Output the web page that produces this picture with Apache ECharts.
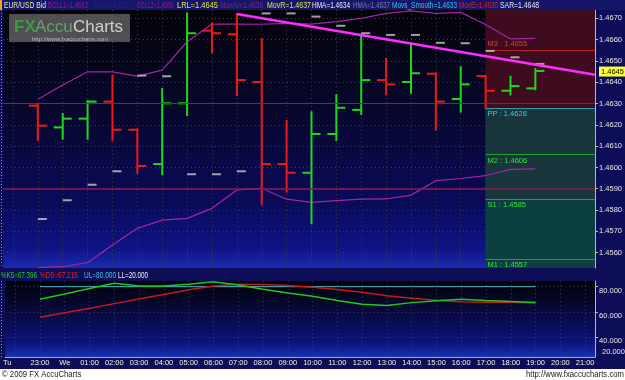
<!DOCTYPE html>
<html><head><meta charset="utf-8">
<script src="https://cdn.jsdelivr.net/npm/echarts@6/dist/echarts.min.js"></script>
<style>html,body{margin:0;padding:0;background:#fff;}#c{width:625px;height:380px;}</style>
</head><body><div id="c"></div>
<script>
// ---------- DATA ----------
const hourLabels = ['Tu','23:00','We','01:00','02:00','03:00','04:00','05:00','06:00','07:00','08:00','09:00',
  '10:00','11:00','12:00','13:00','14:00','15:00','16:00','17:00','18:00','19:00','20:00','21:00'];
const barTimes = ['23:00','We','01:00','02:00','03:00','04:00','05:00','06:00','07:00','08:00','09:00',
  '10:00','11:00','12:00','13:00','14:00','15:00','16:00','17:00','18:00','19:00'];
const openVals  = [1.46290,1.46188,1.46229,1.46309,1.46177,1.46016,1.46301,1.46642,1.46625,1.46401,1.46016,
  1.45975,1.46157,1.46270,1.46410,1.46401,1.46440,1.46321,1.46429,1.46360,1.46371];
const highVals  = [1.46293,1.46251,1.46312,1.46431,1.46179,1.46368,1.46723,1.46677,1.46720,1.46603,1.46218,
  1.46259,1.46340,1.46622,1.46509,1.46575,1.46442,1.46470,1.46429,1.46426,1.46461];
const lowVals   = [1.46129,1.46135,1.46135,1.46129,1.45975,1.45968,1.46246,1.46540,1.46340,1.45827,1.45886,
  1.45738,1.46129,1.46251,1.46343,1.46351,1.46179,1.46262,1.46278,1.46343,1.46367];
const closeVals = [1.46196,1.46229,1.46309,1.46177,1.46007,1.46301,1.46630,1.46630,1.46410,1.46016,1.45975,
  1.46157,1.46280,1.46410,1.46390,1.46442,1.46309,1.46390,1.46360,1.46382,1.46453];
const sarVals   = [1.45758,1.45846,1.45919,1.45982,1.46431,1.46428,1.45968,1.45968,1.45982,1.46723,1.46723,
  1.46708,1.46665,1.46630,1.46622,1.46622,1.46585,1.46583,1.46547,1.46517,1.46486];
const bollUpper = [1.46320,1.46387,1.46449,1.46449,1.46429,1.46457,1.46590,1.46673,1.46673,1.46672,1.46676,
  1.46673,1.46684,1.46700,1.46723,1.46735,1.46723,1.46728,1.46671,1.46603,1.46606];
const bollLower = [1.45530,1.45534,1.45553,1.45636,1.45714,1.45753,1.45761,1.45808,1.45894,1.45902,1.45851,
  1.45836,1.45844,1.45851,1.45852,1.45870,1.45938,1.45948,1.45962,1.45991,1.45993];
const stochK = [70.0,74.2,78.5,82.7,80.6,80.6,81.9,84.0,81.3,77.9,75.1,72.4,69.0,66.2,65.1,67.4,68.9,70.0,69.1,68.3,67.4];
const stochD = [55.8,59.4,63.0,66.6,70.3,73.8,77.5,80.6,81.9,81.7,80.9,79.6,77.8,75.6,72.9,70.8,69.2,68.1,67.7,67.7,67.2];
const stochUL = 80, stochLL = 20;
const subTickLabels = [80, 60, 40, 20];
const pivotNames  = ['M3','PP','M2','S1','M1'];
const pivotValues = [1.4655,1.4628,1.4606,1.4585,1.4557];
const pivotStart = '17:00';
const hLineValues = [1.4630, 1.4590];
const trendStart = '07:00';
const trendValues = [1.4672, 1.46435];
const lastPrice = 1.4645;
const headerItems = [
  ['EUR/USD Bid','#e6e6a0'],['BOLL1=1.4663','#8e1c8e'],['MovAv=1.4626','#1c2a8a'],['BOLL2=1.4589','#8e1c8e'],
  ['LRL=1.4645','#e4e444'],['MovAv=1.4638','#7e287e'],['MovR=1.4637','#e4e444'],['HMA=1.4634','#f0f0f0'],
  ['HMA=1.4637','#7c7ca8'],['Movs_Smooth=1.4633','#3cc0e0'],['MovE=1.4630','#e02020'],['SAR=1.4648','#e8e8e8']];
const subHeaderItems = [['%K5=67.396','#22d022'],['%D5=67.215','#e02222'],['UL=80.000','#3cc0e0'],['LL=20.000','#f0f0f0']];

// ---------- LAYOUT ----------
const FONT = "'Liberation Sans', Arial, sans-serif";
const xOf = t => hourLabels.indexOf(t) - 1;
const X_MIN = -1.4, X_MAX = 22.4, Y_MIN = 1.45528, Y_MAX = 1.46739;
const headerPos = [[4,42],[48,40],[94,35],[137,36],[177,41],[220,43],[267,44],[312,38],[353,37],[392,65],[459,39],[500,39]];
const subHeaderPos = [[1,36],[40,38],[84,32],[118,30]];

const ctx = document.createElement('canvas').getContext('2d');
ctx.font = '8.5px ' + FONT;
const fitScale = (t,w) => w / ctx.measureText(t).width;

const chart = echarts.init(document.getElementById('c'));
const mainGrad = new echarts.graphic.LinearGradient(0,0,0,1,[
  {offset:0,color:'#030309'},{offset:0.4,color:'#07072e'},{offset:0.75,color:'#0a0a5a'},
  {offset:0.93,color:'#0e1486'},{offset:1,color:'#1a2cb0'}]);
const subGrad = new echarts.graphic.LinearGradient(0,0,0,1,[
  {offset:0,color:'#020208'},{offset:0.45,color:'#080a44'},{offset:0.8,color:'#0c1278'},{offset:1,color:'#1830b0'}]);

const gridLine = {show:true, showMinLine:false, showMaxLine:false, lineStyle:{color:'#3a3a58', type:[1,3], width:1}};
const xBase = {type:'value', min:X_MIN, max:X_MAX, minInterval:1, maxInterval:1, z:1};

const bx = barTimes.map(xOf);
const ohlc = bx.map((x,i)=>[x, openVals[i], highVals[i], lowVals[i], closeVals[i]]);
const pivotColors = {M3:['#b82020','#e83a3a'], PP:['#2a9cb0','#44c8dc'], M2:['#24a030','#3ae048'], S1:['#24a030','#3ae048'], M1:['#24a030','#3ae048']};
const pStart = xOf(pivotStart);

const graphics = [
  {type:'rect', shape:{x:0,y:0,width:625,height:10}, style:{fill:'#15156a'}, z:10},
  {type:'rect', shape:{x:0,y:0,width:2,height:10}, style:{fill:'#f0a020'}, z:11},
  {type:'line', shape:{x1:1.5,y1:10,x2:1.5,y2:268}, style:{stroke:'#8888a0', lineDash:[1,2]}, z:11},
  {type:'line', shape:{x1:1.5,y1:281,x2:1.5,y2:357}, style:{stroke:'#8888a0', lineDash:[1,2]}, z:11},
  {type:'rect', shape:{x:0,y:369,width:625,height:11}, style:{fill:'#ffffff'}, z:10},
  {type:'text', x:2, y:375, scaleX:0.86, style:{text:'\u00a9 2009 FX AccuCharts', fill:'#202020', font:'9px '+FONT, verticalAlign:'middle', textVerticalAlign:'middle'}, z:11},
  {type:'text', x:624, y:375, scaleX:0.86, style:{text:'http://www.fxaccucharts.com', fill:'#202020', font:'9px '+FONT, align:'right', textAlign:'right', verticalAlign:'middle', textVerticalAlign:'middle'}, z:11},
  // watermark
  {type:'rect', shape:{x:9,y:14,width:121,height:28}, style:{fill:'rgba(110,110,110,0.72)'}, z:11},
  {type:'text', x:14, y:27, style:{text:'FX', fill:'#3e9a3e', font:'bold 17px '+FONT, verticalAlign:'middle', textVerticalAlign:'middle'}, z:12},
  {type:'text', x:35, y:27, style:{text:'Accu', fill:'#64a070', font:'17px '+FONT, verticalAlign:'middle', textVerticalAlign:'middle'}, z:12},
  {type:'text', x:73, y:27, style:{text:'Charts', fill:'#d0d0d0', font:'17px '+FONT, verticalAlign:'middle', textVerticalAlign:'middle'}, z:12},
  {type:'text', x:70, y:39, style:{text:'http://www.fxaccucharts.com', fill:'#b8b8b8', font:'6px '+FONT, align:'center', textAlign:'center', verticalAlign:'middle', textVerticalAlign:'middle'}, z:12}
];
headerItems.forEach((h,i)=>graphics.push({type:'text', x:headerPos[i][0], y:5.5, scaleX:fitScale(h[0],headerPos[i][1]),
  style:{text:h[0], fill:h[1], font:'8.5px '+FONT, verticalAlign:'middle', textVerticalAlign:'middle'}, z:12}));
subHeaderItems.forEach((h,i)=>graphics.push({type:'text', x:subHeaderPos[i][0], y:276, scaleX:fitScale(h[0],subHeaderPos[i][1]),
  style:{text:h[0], fill:h[1], font:'8.5px '+FONT, verticalAlign:'middle', textVerticalAlign:'middle'}, z:12}));

const option = {
  animation:false,
  backgroundColor:'#0e0e58',
  grid:[
    {left:3, right:27, top:10, height:258, show:true, backgroundColor:mainGrad, borderWidth:0},
    {left:3, right:27, top:281, height:76, show:true, backgroundColor:subGrad, borderWidth:0}
  ],
  xAxis:[
    Object.assign({}, xBase, {gridIndex:0, axisLine:{show:false, onZero:false}, axisTick:{show:false}, axisLabel:{show:false}, splitLine:gridLine}),
    Object.assign({}, xBase, {gridIndex:1, axisLine:{show:true, onZero:false, lineStyle:{color:'#a8a8c8'}}, axisTick:{show:false},
      splitLine:gridLine,
      axisLabel:{show:true, showMinLabel:false, showMaxLabel:false, margin:2, color:'#f0f0f0', fontSize:7.5, fontFamily:FONT,
        formatter:v=>{ if (Math.abs(v-Math.round(v))>1e-6) return ''; const k=Math.round(v)+1; const t=hourLabels[k]||''; return k===0?'{tu|'+t+'}':t; },
        rich:{tu:{padding:[0,16,0,0], color:'#f0f0f0', fontSize:7.5, fontFamily:FONT}}}})
  ],
  yAxis:[
    {type:'value', gridIndex:0, position:'right', min:Y_MIN, max:Y_MAX, minInterval:0.001, maxInterval:0.001, z:1,
      axisLine:{show:true, onZero:false, lineStyle:{color:'#c8be78'}}, axisTick:{show:true, length:3, lineStyle:{color:'#c8be78'}},
      axisLabel:{showMinLabel:false, showMaxLabel:false, formatter:v=>v.toFixed(4), color:'#e8e8e8', fontSize:7.5, fontFamily:FONT, margin:4},
      splitLine:gridLine},
    {type:'value', gridIndex:1, position:'right', min:24.4, max:84.5, minInterval:20, maxInterval:20, z:1,
      axisLine:{show:true, onZero:false, lineStyle:{color:'#c8be78'}}, axisTick:{show:true, length:3, lineStyle:{color:'#c8be78'}},
      axisLabel:{showMinLabel:false, showMaxLabel:false, formatter:v=>v.toFixed(3), color:'#e8e8e8', fontSize:7.5, fontFamily:FONT, margin:4, verticalAlign:'top'},
      splitLine:gridLine}
  ],
  series:[
    {type:'line', xAxisIndex:0, yAxisIndex:0, data:[], z:0, silent:true,
      markArea:{silent:true, data:[
        [{xAxis:pStart, yAxis:pivotValues[1], itemStyle:{color:'#3e0c1e'}},{xAxis:X_MAX, yAxis:Y_MAX}],
        [{xAxis:pStart, yAxis:pivotValues[3], itemStyle:{color:'#18363c'}},{xAxis:X_MAX, yAxis:pivotValues[1]}],
        [{xAxis:pStart, yAxis:Y_MIN, itemStyle:{color:'#0c4040'}},{xAxis:X_MAX, yAxis:pivotValues[3]}]
      ]}},
    {type:'line', xAxisIndex:0, yAxisIndex:0, data:[], z:2, silent:true,
      markLine:{silent:true, symbol:['none','none'], animation:false, data:
        hLineValues.map((v,i)=>[{coord:[X_MIN,v], lineStyle:{color:i===0?'#b01414':'#8a1a4c', width:i===0?1:1.5, type:'solid'}, label:{show:false}},{coord:[X_MAX,v]}])
        .concat(pivotNames.map((n,i)=>[{coord:[pStart,pivotValues[i]], lineStyle:{color:pivotColors[n][0], width:1, type:'solid'},
          label:{show:true, formatter:n+' : '+pivotValues[i].toFixed(4), position:i===0?'insideStartTop':'insideStartBottom',
            color:pivotColors[n][1], fontSize:7.5, fontFamily:FONT, distance:2}},{coord:[X_MAX,pivotValues[i]]}]))}},
    {type:'line', xAxisIndex:0, yAxisIndex:0, data:bx.map((x,i)=>[x,bollUpper[i]]), showSymbol:false, symbol:'none', z:3,
      lineStyle:{color:'#a226a2', width:1.2}},
    {type:'line', xAxisIndex:0, yAxisIndex:0, data:bx.map((x,i)=>[x,bollLower[i]]), showSymbol:false, symbol:'none', z:3,
      lineStyle:{color:'#a226a2', width:1.2}},
    {type:'custom', xAxisIndex:0, yAxisIndex:0, z:4, data:ohlc, encode:{x:0, y:[1,2,3,4]},
      renderItem:(params, api)=>{
        const x=api.value(0), o=api.value(1), h=api.value(2), l=api.value(3), c=api.value(4);
        const po=api.coord([x,o]), ph=api.coord([x,h]), pl=api.coord([x,l]), pc=api.coord([x,c]);
        const col = c>=o ? '#1ed81e' : '#f01818';
        const st = {stroke:col, lineWidth:2};
        return {type:'group', children:[
          {type:'line', shape:{x1:ph[0],y1:ph[1]-1,x2:pl[0],y2:pl[1]+1}, style:st},
          {type:'line', shape:{x1:po[0]-9,y1:po[1],x2:po[0],y2:po[1]}, style:st},
          {type:'line', shape:{x1:pc[0],y1:pc[1],x2:pc[0]+9,y2:pc[1]}, style:st}
        ]};
      }},
    {type:'scatter', xAxisIndex:0, yAxisIndex:0, z:5, data:bx.map((x,i)=>[x,sarVals[i]]), symbol:'rect', symbolSize:[9,2], symbolOffset:[4.5,0],
      itemStyle:{color:'#c8c8c8'}},
    {type:'line', xAxisIndex:0, yAxisIndex:0, z:6, data:[[xOf(trendStart),trendValues[0]],[X_MAX,trendValues[1]]], showSymbol:false, symbol:'none',
      lineStyle:{color:'#ff2cff', width:2.5}},
    {type:'line', xAxisIndex:1, yAxisIndex:1, z:3, data:bx.map(x=>[x,stochUL]), showSymbol:false, symbol:'none',
      lineStyle:{color:'#4ab8cc', width:1}},
    {type:'line', xAxisIndex:1, yAxisIndex:1, z:4, data:bx.map((x,i)=>[x,stochD[i]]), showSymbol:false, symbol:'none',
      lineStyle:{color:'#c41a1a', width:1.5}},
    {type:'line', xAxisIndex:1, yAxisIndex:1, z:5, data:bx.map((x,i)=>[x,stochK[i]]), showSymbol:false, symbol:'none',
      lineStyle:{color:'#1ec81e', width:1.5}}
  ],
  graphic:{elements:graphics}
};
chart.setOption(option);

// price tag and clamped LL label positioned through the library's scales
const py = chart.convertToPixel({yAxisIndex:0}, lastPrice);
const llY = Math.min(chart.convertToPixel({yAxisIndex:1}, subTickLabels[3]), 352);
graphics.push({type:'rect', shape:{x:599,y:py-5,width:26,height:10}, style:{fill:'#ffff3c'}, z:20});
graphics.push({type:'text', x:601, y:py, style:{text:lastPrice.toFixed(4), fill:'#000000', font:'7.5px '+FONT, verticalAlign:'middle', textVerticalAlign:'middle'}, z:21});
graphics.push({type:'text', x:602, y:llY, style:{text:subTickLabels[3].toFixed(3), fill:'#e8e8e8', font:'7.5px '+FONT, verticalAlign:'middle', textVerticalAlign:'middle'}, z:21});
option.graphic = {elements:graphics};
chart.setOption(option, true);
</script></body></html>
